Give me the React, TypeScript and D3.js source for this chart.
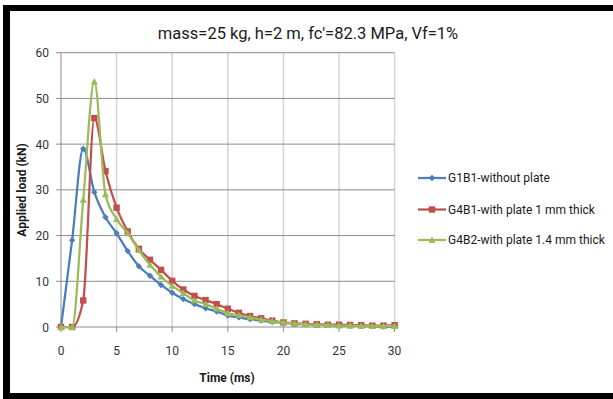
import React from "react";
import * as d3 from "d3";

const time = d3.range(0, 31);
const seriesNames = [
  "G1B1-without plate",
  "G4B1-with plate 1 mm thick",
  "G4B2-with plate 1.4 mm thick",
];
const g1b1 = [0, 19, 39, 29.5, 24, 20.5, 16.6, 13.3, 11.2, 9.2, 7.5, 6.1, 5.0, 4.1, 3.4, 2.5, 2.1, 1.7, 1.4, 1.1, 0.9, 0.7, 0.6, 0.5, 0.4, 0.3, 0.25, 0.2, 0.15, 0.1, 0.1];
const g4b1 = [0, 0, 5.8, 45.7, 34.1, 26.1, 20.9, 17.1, 14.7, 12.5, 10.1, 8.2, 6.8, 5.9, 5.0, 4.0, 3.1, 2.4, 1.9, 1.4, 1.0, 0.8, 0.7, 0.6, 0.5, 0.5, 0.45, 0.4, 0.3, 0.3, 0.4];
const g4b2 = [0, 0, 27.8, 53.7, 29.0, 23.6, 20.5, 16.8, 13.6, 11.0, 9.0, 7.4, 5.8, 5.0, 4.0, 3.0, 2.6, 2.1, 1.6, 1.3, 1.0, 0.8, 0.6, 0.5, 0.4, 0.3, 0.3, 0.25, 0.2, 0.2, 0.2];
const xTicks = [0, 5, 10, 15, 20, 25, 30];
const yTicks = [0, 10, 20, 30, 40, 50, 60];
const title = "mass=25 kg, h=2 m, fc'=82.3 MPa, Vf=1%";
const xLabel = "Time (ms)";
const yLabel = "Applied load (kN)";

const colors = ["#4A7EBB", "#C0504D", "#9BBB59"];
const markers = ["diamond", "square", "triangle"];
const FONT = "Roboto, 'Open Sans', sans-serif";

function Marker({ type, x, y, color }: { type: string; x: number; y: number; color: string }) {
  if (type === "diamond") {
    const s = 3.2;
    return <path d={`M${x},${y - s}L${x + s},${y}L${x},${y + s}L${x - s},${y}Z`} fill={color} />;
  }
  if (type === "square") {
    const s = 3.2;
    return <rect x={x - s} y={y - s} width={2 * s} height={2 * s} fill={color} />;
  }
  const s = 3.6;
  return <path d={`M${x},${y - s}L${x + s},${y + s * 0.8}L${x - s},${y + s * 0.8}Z`} fill={color} />;
}

export default function App() {
  const left = 61, right = 394.6, top = 52.7, bottom = 327;
  const x = d3.scaleLinear().domain([0, 30]).range([left, right]);
  const y = d3.scaleLinear().domain([0, 60]).range([bottom, top]);
  const data = [g1b1, g4b1, g4b2];
  const line = d3
    .line<number>()
    .x((_, i) => x(time[i]))
    .y((d) => y(d))
    .curve(d3.curveMonotoneX);

  const legendY = [178, 209.5, 240];

  return (
    <div style={{ position: "fixed", left: 0, top: 0 }}>
      <svg width={613} height={399} style={{ display: "block", background: "#fff" }}>
        <rect x={0} y={0} width={613} height={399} fill="#fff" />
        {xTicks.slice(1).map((t) => (
          <line key={"vx" + t} x1={x(t)} x2={x(t)} y1={top} y2={bottom} stroke="#d4d4d4" strokeWidth={1.5} />
        ))}
        {yTicks.slice(1).map((t) => (
          <line key={"hy" + t} x1={left} x2={right} y1={y(t)} y2={y(t)} stroke="#8c8c8c" strokeWidth={1} />
        ))}
        <line x1={left} x2={left} y1={top} y2={bottom} stroke="#8c8c8c" />
        <line x1={left} x2={right} y1={bottom} y2={bottom} stroke="#8c8c8c" />
        {yTicks.map((t) => (
          <g key={"yt" + t}>
            <line x1={left - 5} x2={left} y1={y(t)} y2={y(t)} stroke="#8c8c8c" />
            <text x={49} y={y(t) + 4.5} textAnchor="end" fontFamily={FONT} fontSize={12} fill="#333">
              {t}
            </text>
          </g>
        ))}
        {xTicks.map((t) => (
          <g key={"xt" + t}>
            <line x1={x(t)} x2={x(t)} y1={bottom} y2={bottom + 5} stroke="#8c8c8c" />
            <text x={x(t)} y={355} textAnchor="middle" fontFamily={FONT} fontSize={12} fill="#333">
              {t}
            </text>
          </g>
        ))}
        {data.map((d, si) => (
          <g key={"s" + si}>
            <path d={line(d) || ""} fill="none" stroke={colors[si]} strokeWidth={2.25} />
            {d.map((v, i) => (
              <Marker key={i} type={markers[si]} x={x(time[i])} y={y(v)} color={colors[si]} />
            ))}
          </g>
        ))}
        <text x={308} y={39} textAnchor="middle" fontFamily={FONT} fontSize={16.5} fill="#1a1a1a">
          {title}
        </text>
        <text x={227} y={382} textAnchor="middle" fontFamily={FONT} fontSize={12} fontWeight="bold" fill="#1a1a1a">
          {xLabel}
        </text>
        <text
          transform={`translate(26,190) rotate(-90)`}
          textAnchor="middle"
          fontFamily={FONT}
          fontSize={12}
          fontWeight="bold"
          fill="#1a1a1a"
        >
          {yLabel}
        </text>
        {seriesNames.map((n, i) => (
          <g key={"lg" + i}>
            <line x1={418} x2={446} y1={legendY[i]} y2={legendY[i]} stroke={colors[i]} strokeWidth={2.25} />
            <Marker type={markers[i]} x={432} y={legendY[i]} color={colors[i]} />
            <text x={448} y={legendY[i] + 4} fontFamily={FONT} fontSize={12} fill="#1a1a1a">
              {n}
            </text>
          </g>
        ))}
        <rect x={3} y={5} width={610} height={6} fill="#000" />
        <rect x={3} y={5} width={7} height={394} fill="#000" />
        <rect x={3} y={393} width={610} height={6} fill="#000" />
      </svg>
    </div>
  );
}
